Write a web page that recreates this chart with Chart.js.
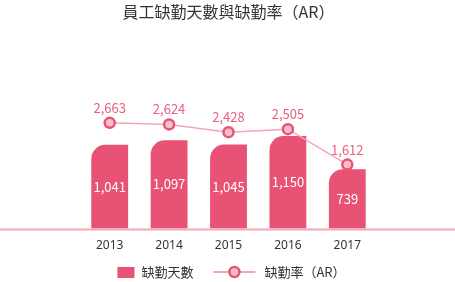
<!DOCTYPE html>
<html>
<head>
<meta charset="utf-8">
<script src="https://cdn.jsdelivr.net/npm/chart.js@4.4.1/dist/chart.umd.min.js"></script>
<style>
  html, body { margin: 0; padding: 0; background: #fff; }
  #wrap { width: 455px; height: 282px; position: relative; }
</style>
</head>
<body>
<div id="wrap"><canvas id="absChart"></canvas></div>
<script>
const years = ["2013", "2014", "2015", "2016", "2017"];
const absentDays = [1041, 1097, 1045, 1150, 739];
const absentRate = [2663, 2624, 2428, 2505, 1612];
const barLabel = "缺勤天數";
const lineLabel = "缺勤率（AR）";

const BAR = "#e75275";
const LINE = "#f4a6b5";
const DOT = "#f8c1ca";
const CJK = "'Noto Sans CJK TC', 'Noto Sans', sans-serif";

const fmt = (v) => v.toLocaleString("en-US");

// value labels: inside bars (white) and above points (pink)
const valueLabels = {
  id: "valueLabels",
  afterDatasetsDraw(chart) {
    const ctx = chart.ctx;
    ctx.save();
    ctx.font = "13px " + CJK;
    ctx.textAlign = "center";
    ctx.textBaseline = "middle";
    chart.getDatasetMeta(1).data.forEach((bar, i) => {
      ctx.fillStyle = "#fff";
      ctx.fillText(fmt(absentDays[i]), bar.x, (bar.y + bar.base) / 2);
    });
    chart.getDatasetMeta(0).data.forEach((pt, i) => {
      ctx.fillStyle = "#e8607e";
      ctx.fillText(fmt(absentRate[i]), pt.x, pt.y - 15);
    });
    ctx.restore();
  }
};

// pink baseline across the whole width + legend at the bottom
const decor = {
  id: "decor",
  beforeDatasetsDraw(chart) {
    const ctx = chart.ctx;
    const y = chart.chartArea.bottom + 1;
    ctx.save();
    ctx.strokeStyle = LINE;
    ctx.lineWidth = 2;
    ctx.beginPath();
    ctx.moveTo(0, y);
    ctx.lineTo(chart.width, y);
    ctx.stroke();
    ctx.restore();
  },
  afterDraw(chart) {
    const ctx = chart.ctx;
    ctx.save();
    ctx.font = "13px " + CJK;
    ctx.textBaseline = "middle";
    const y = chart.height - 10;
    const w1 = 17 + 7 + ctx.measureText(barLabel).width;
    const w2 = 42 + 9 + ctx.measureText(lineLabel).width;
    const gap = 20;
    let x = (chart.width - (w1 + gap + w2)) / 2 + 4;
    ctx.fillStyle = BAR;
    ctx.fillRect(x, y - 5, 17, 11);
    ctx.fillStyle = "#333";
    ctx.fillText(barLabel, x + 24, y);
    x += w1 + gap;
    ctx.strokeStyle = LINE;
    ctx.lineWidth = 2;
    ctx.beginPath();
    ctx.moveTo(x, y);
    ctx.lineTo(x + 42, y);
    ctx.stroke();
    ctx.beginPath();
    ctx.arc(x + 21, y, 5, 0, Math.PI * 2);
    ctx.fillStyle = DOT;
    ctx.fill();
    ctx.strokeStyle = BAR;
    ctx.lineWidth = 2.5;
    ctx.stroke();
    ctx.fillStyle = "#333";
    ctx.fillText(lineLabel, x + 51, y);
    ctx.restore();
  }
};

new Chart(document.getElementById("absChart"), {
  data: {
    labels: years,
    datasets: [
      {
        type: "line",
        label: lineLabel,
        data: absentRate,
        yAxisID: "yRate",
        borderColor: LINE,
        borderWidth: 1.5,
        pointRadius: 5,
        pointBackgroundColor: DOT,
        pointBorderColor: BAR,
        pointBorderWidth: 2.5,
        tension: 0,
        order: 0
      },
      {
        type: "bar",
        label: barLabel,
        data: absentDays,
        yAxisID: "yDays",
        backgroundColor: BAR,
        borderRadius: { topLeft: 14, topRight: 0, bottomLeft: 0, bottomRight: 0 },
        borderSkipped: false,
        categoryPercentage: 0.62,
        barPercentage: 1,
        order: 1
      }
    ]
  },
  options: {
    responsive: true,
    maintainAspectRatio: false,
    animation: false,
    devicePixelRatio: 1,
    layout: { padding: { left: 80, right: 78, top: 0, bottom: 27 } },
    plugins: {
      legend: { display: false },
      tooltip: { enabled: false },
      title: {
        display: true,
        text: "員工缺勤天數與缺勤率（AR）",
        color: "#333",
        font: { family: CJK, size: 16, weight: "normal" },
        padding: { top: 2, bottom: 20 }
      }
    },
    scales: {
      x: {
        grid: { display: false },
        border: { display: false },
        ticks: { color: "#333", font: { family: "'Noto Sans', sans-serif", size: 12 }, padding: 2 }
      },
      yDays: { display: false, min: 0, max: 2330 },
      yRate: { display: false, min: 0, max: 4720 }
    }
  },
  plugins: [decor, valueLabels]
});
</script>
</body>
</html>
